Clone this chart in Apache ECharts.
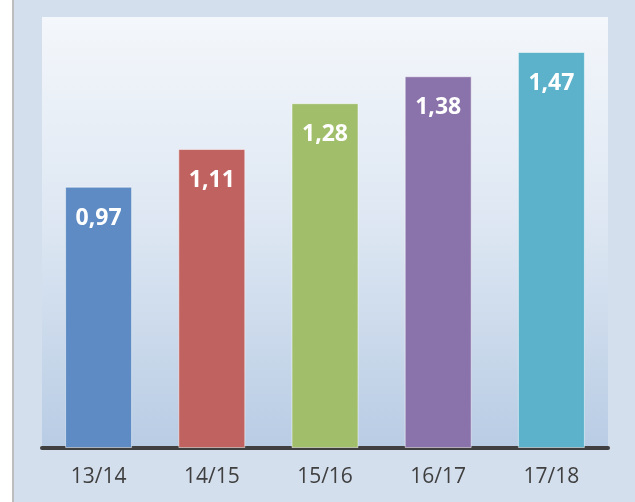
<!DOCTYPE html>
<html><head><meta charset="utf-8">
<script src="https://cdn.jsdelivr.net/npm/echarts@6/dist/echarts.min.js"></script>
<style>html,body{margin:0;padding:0;background:#D4DFEE;}#c{width:635px;height:502px;}</style>
</head><body><div id="c"></div>
<script>
const categories = ['13/14', '14/15', '15/16', '16/17', '17/18'];
const values = [0.97, 1.11, 1.28, 1.38, 1.47];
const barColors = ['#5E8BC4', '#C0625F', '#A1BE6B', '#8A72AA', '#5CB2CA'];

const chart = echarts.init(document.getElementById('c'));
chart.setOption({
  backgroundColor: '#D4DFEE',
  animation: false,
  graphic: [
    {type: 'rect', shape: {x: 0, y: 0, width: 12, height: 502}, style: {fill: '#FFFFFF'}, z: 10},
    {type: 'rect', shape: {x: 12, y: 0, width: 2, height: 502}, style: {fill: '#BDBDBD'}, z: 10}
  ],
  grid: {
    left: 42, right: 27, top: 17, bottom: 54,
    show: true, borderWidth: 0,
    backgroundColor: new echarts.graphic.LinearGradient(0, 0, 0, 1, [
      {offset: 0, color: '#F4F7FB'},
      {offset: 0.5, color: '#DCE6F2'},
      {offset: 1, color: '#B8CCE4'}
    ])
  },
  xAxis: {
    type: 'category', data: categories,
    axisLine: {lineStyle: {color: '#404040', width: 4}},
    axisTick: {show: false},
    axisLabel: {color: '#404040', fontSize: 21, fontFamily: 'Open Sans', margin: 19}
  },
  yAxis: {
    type: 'value', min: 0, max: 1.6, show: false,
    splitLine: {show: false}
  },
  series: [{
    type: 'bar',
    data: values.map((v, i) => ({value: v, itemStyle: {color: barColors[i]}})),
    barWidth: 67,
    itemStyle: {borderColor: 'rgba(255,255,255,0.5)', borderWidth: 1},
    label: {
      show: true, position: 'insideTop', distance: 20,
      color: '#FFFFFF', fontWeight: 'bold', fontSize: 23, fontFamily: 'Open Sans',
      formatter: p => p.value.toFixed(2).replace('.', ',')
    }
  }]
});
</script></body></html>
